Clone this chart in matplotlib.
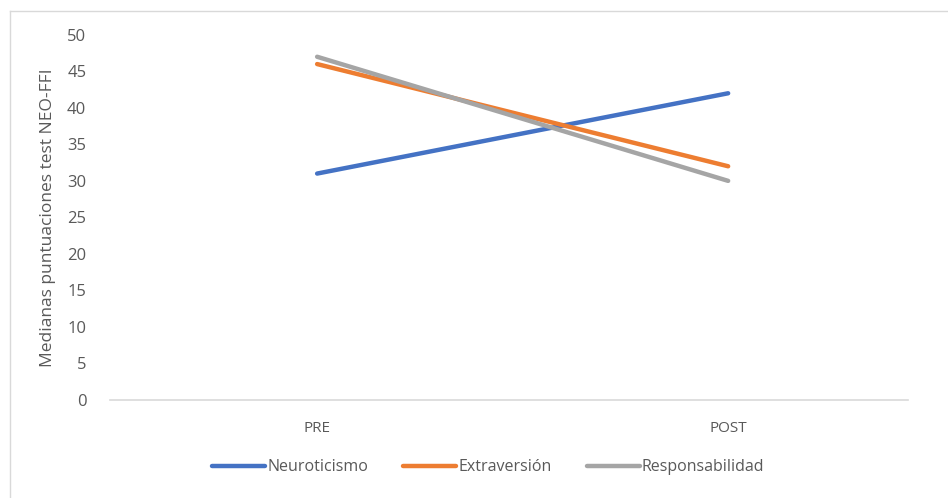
import matplotlib.pyplot as plt
from matplotlib.lines import Line2D

# Medianas por momento de evaluación
momentos = ['PRE', 'POST']
neuroticismo = [31, 42]
extraversion = [46, 32]
responsabilidad = [47, 30]

series = [('Neuroticismo', neuroticismo, '#4472C4'),
          ('Extraversión', extraversion, '#ED7D31'),
          ('Responsabilidad', responsabilidad, '#A5A5A5')]

plt.rcParams['font.family'] = ['Open Sans', 'DejaVu Sans']
texto = '#595959'

fig = plt.figure(figsize=(9.48, 4.98), dpi=100)
ax = fig.add_axes([0.116, 0.197, 0.842, 0.733])

x = list(range(len(momentos)))
for nombre, valores, color in series:
    ax.plot(x, valores, color=color, linewidth=3.2, solid_capstyle='round', label=nombre)

ax.set_ylim(0, 50)
ax.set_yticks(range(0, 51, 5))
ax.set_xlim(-0.504, 1.438)
ax.set_xticks(x)
ax.set_xticklabels(momentos)

for lado in ['top', 'right', 'left']:
    ax.spines[lado].set_visible(False)
ax.spines['bottom'].set_color('#D9D9D9')
ax.spines['bottom'].set_linewidth(1.2)

ax.tick_params(axis='y', length=0, pad=17, labelsize=12, labelcolor=texto)
ax.tick_params(axis='x', length=0, pad=15, labelsize=11, labelcolor=texto)
ax.set_ylabel('Medianas puntuaciones test NEO-FFI', fontsize=12.5, color=texto, labelpad=8)

leg = ax.legend(loc='center', bbox_to_anchor=(0.474, -0.185), ncol=3, frameon=False,
                fontsize=11.5, handlelength=3.3, handletextpad=0.15, columnspacing=2.2)
for t in leg.get_texts():
    t.set_color(texto)

# borde del área del gráfico
fig.add_artist(Line2D([10 / 948, 1], [1 - 11 / 498] * 2, color='#D9D9D9', linewidth=1))
fig.add_artist(Line2D([10 / 948] * 2, [0, 1 - 11 / 498], color='#D9D9D9', linewidth=1))

fig.savefig('out.png', dpi=100)
